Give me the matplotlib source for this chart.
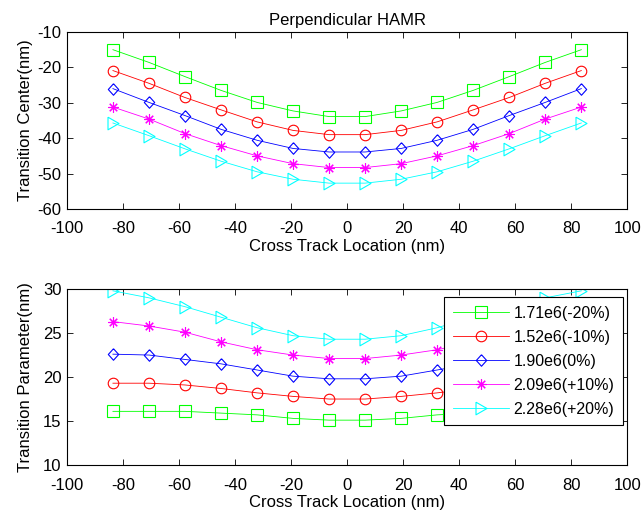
import matplotlib
matplotlib.use("Agg")
import matplotlib.pyplot as plt

plt.rcParams['font.family'] = ['Liberation Sans', 'DejaVu Sans']
plt.rcParams['axes.unicode_minus'] = False

x = [-83.6, -70.7, -57.9, -45.0, -32.1, -19.3, -6.4, 6.4, 19.3, 32.1, 45.0, 57.9, 70.7, 83.6]

labels = ['1.71e6(-20%)', '1.52e6(-10%)', '1.90e6(0%)', '2.09e6(+10%)', '2.28e6(+20%)']

center_g = [-15.0, -18.6, -22.6, -26.5, -29.9, -32.3, -33.9, -33.9, -32.3, -29.9, -26.5, -22.6, -18.6, -15.0]
center_r = [-20.9, -24.5, -28.5, -32.0, -35.4, -37.8, -39.0, -39.0, -37.8, -35.4, -32.0, -28.5, -24.5, -20.9]
center_b = [-26.0, -29.9, -33.6, -37.5, -40.6, -42.9, -43.9, -43.9, -42.9, -40.6, -37.5, -33.6, -29.9, -26.0]
center_m = [-31.2, -34.6, -38.7, -42.1, -45.0, -47.2, -48.3, -48.3, -47.2, -45.0, -42.1, -38.7, -34.6, -31.2]
center_c = [-35.7, -39.3, -43.0, -46.5, -49.5, -51.6, -52.7, -52.7, -51.6, -49.5, -46.5, -43.0, -39.3, -35.7]

param_g = [16.1, 16.1, 16.1, 15.9, 15.7, 15.3, 15.1, 15.1, 15.3, 15.7, 15.9, 16.1, 16.1, 16.1]
param_r = [19.3, 19.3, 19.1, 18.7, 18.2, 17.8, 17.5, 17.5, 17.8, 18.2, 18.7, 19.1, 19.3, 19.3]
param_b = [22.6, 22.5, 22.0, 21.5, 20.8, 20.1, 19.8, 19.8, 20.1, 20.8, 21.5, 22.0, 22.5, 22.6]
param_m = [26.3, 25.8, 25.1, 24.0, 23.1, 22.5, 22.1, 22.1, 22.5, 23.1, 24.0, 25.1, 25.8, 26.3]
param_c = [29.8, 29.0, 28.0, 26.8, 25.6, 24.7, 24.3, 24.3, 24.7, 25.6, 26.8, 28.0, 29.0, 29.8]

xticks = [-100, -80, -60, -40, -20, 0, 20, 40, 60, 80, 100]
yticks_top = [-60, -50, -40, -30, -20, -10]
yticks_bot = [10, 15, 20, 25, 30]

colors = ['#00ff00', '#ff0000', '#0000ff', '#ff00ff', '#00ffff']
diamond = [(0, 1), (0.9, 0), (0, -1), (-0.9, 0), (0, 1)]
tri_right = [(-0.87, 1), (0.87, 0), (-0.87, -1), (-0.87, 1)]
markers = ['s', 'o', diamond, (8, 2, 0), tri_right]
msizes = [8.2, 7.6, 8.3, 7.5, 9.1]

fig = plt.figure(figsize=(6.44, 5.16), dpi=100)
ax1 = fig.add_axes([0.104, 0.595, 0.870, 0.343])
ax2 = fig.add_axes([0.104, 0.0988, 0.870, 0.341])

top_series = [center_g, center_r, center_b, center_m, center_c]
bot_series = [param_g, param_r, param_b, param_m, param_c]

for ax, series in ((ax1, top_series), (ax2, bot_series)):
    for ys, c, mk, ms, lb in zip(series, colors, markers, msizes, labels):
        ax.plot(x, ys, color=c, lw=0.6, marker=mk, ms=ms, mfc='none', mec=c, mew=0.8, label=lb)
    ax.set_xlim(-100, 100)
    ax.set_xticks(xticks)
    ax.tick_params(direction='in', top=True, right=True, length=4, width=0.6, labelsize=12)
    ax.tick_params(axis='x', pad=9)
    ax.tick_params(axis='y', pad=4)
    for s in ax.spines.values():
        s.set_linewidth(0.8)
    ax.set_xlabel('Cross Track Location (nm)', fontsize=12, labelpad=2)

ax1.set_ylim(-60, -10)
ax1.set_yticks(yticks_top)
ax1.set_ylabel('Transition Center(nm)', fontsize=12, labelpad=3)
ax1.set_title('Perpendicular HAMR', fontsize=12, pad=5)

ax2.set_ylim(10, 30)
ax2.set_yticks(yticks_bot)
ax2.set_ylabel('Transition Parameter(nm)', fontsize=12, labelpad=7)

leg = ax2.legend(loc='upper right', bbox_to_anchor=(0.993, 0.955), fontsize=11.5,
                 frameon=True, fancybox=False, framealpha=1, edgecolor='black',
                 handlelength=3.5, handletextpad=0.3, labelspacing=0.56, borderpad=0.55,
                 borderaxespad=0)
leg.get_frame().set_linewidth(0.8)

fig.savefig('out.png', dpi=100)
